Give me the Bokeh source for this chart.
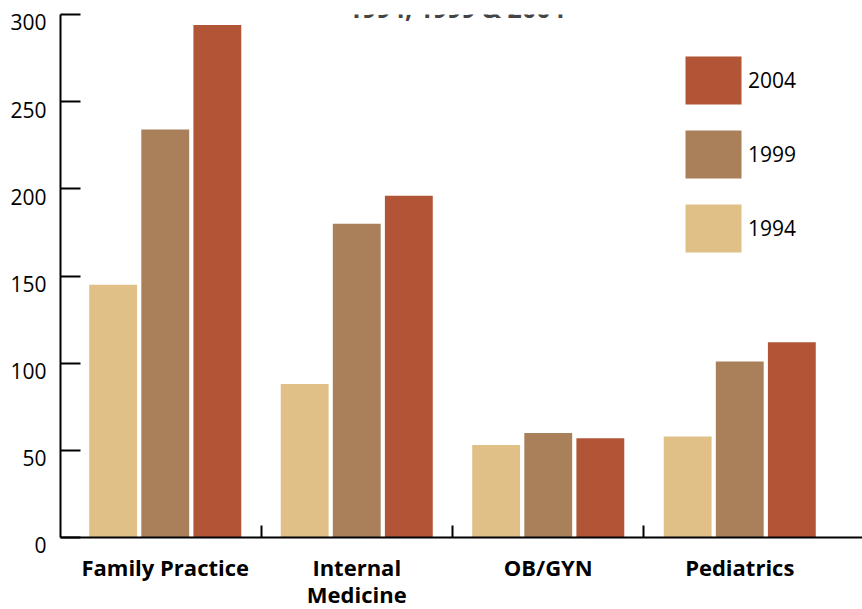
from bokeh.plotting import figure
from bokeh.models import ColumnDataSource, FixedTicker, Legend, LegendItem, Label, Range1d
from bokeh.transform import dodge
from bokeh.embed import file_html
from bokeh.resources import INLINE

categories = ["Family Practice", "Internal\nMedicine", "OB/GYN", "Pediatrics"]
years = ["1994", "1999", "2004"]
v1994 = [145, 88, 53, 58]
v1999 = [234, 180, 60, 101]
v2004 = [294, 196, 57, 112]
y_ticks = [0, 50, 100, 150, 200, 250, 300]
title_text = "1994, 1999 & 2004"

colors = {"1994": "#E0C087", "1999": "#A9805A", "2004": "#B25537"}
FONT = "Open Sans"

idx = list(range(len(categories)))
source = ColumnDataSource(dict(x=idx, y1994=v1994, y1999=v1999, y2004=v2004))

p = figure(frame_width=802, frame_height=523, output_backend="svg", toolbar_location=None,
           x_range=Range1d(-0.547, 3.641), y_range=Range1d(0, 300),
           min_border_left=60, min_border_right=0, min_border_top=14, min_border_bottom=60)
p.outline_line_color = None
p.xgrid.visible = False
p.ygrid.visible = False
p.background_fill_color = "white"
p.border_fill_color = "white"

offsets = {"1994": -0.272, "1999": 0.0, "2004": 0.272}
renderers = {}
for yr in years:
    renderers[yr] = p.vbar(x=dodge("x", offsets[yr], range=p.x_range), top="y" + yr,
                           width=0.25, source=source, fill_color=colors[yr], line_color=None)

# x axis
xa = p.xaxis[0]
xa.ticker = FixedTicker(ticks=idx, minor_ticks=[i + 0.5 for i in idx[:-1]])
xa.major_label_overrides = {i: c for i, c in zip(idx, categories)}
xa.major_tick_in = 0
xa.major_tick_out = 0
xa.minor_tick_in = 12
xa.minor_tick_out = 0
xa.minor_tick_line_color = "black"
xa.minor_tick_line_width = 2
xa.axis_line_width = 2
xa.axis_line_color = "black"
xa.major_label_text_font = FONT
xa.major_label_text_font_style = "bold"
xa.major_label_text_font_size = "22px"
xa.major_label_text_color = "black"
xa.major_label_text_line_height = 0.93
xa.major_label_standoff = 14

# y axis: labels sit a little below each tick, as in the reference
# (leading empty lines push the number down; the top one is kept inside the canvas)
top_tick = y_ticks[-1]
ya = p.yaxis[0]
ya.ticker = FixedTicker(ticks=y_ticks, minor_ticks=[])
ya.major_label_overrides = {t: ("\n" if t == top_tick else "\n\n") + str(t) for t in y_ticks}
ya.major_tick_in = 20
ya.major_tick_out = 0
ya.major_tick_line_width = 2
ya.major_tick_line_color = "black"
ya.axis_line_width = 2
ya.axis_line_color = "black"
ya.major_label_text_font = FONT
ya.major_label_text_font_size = "21px"
ya.major_label_text_color = "black"
ya.major_label_text_line_height = 0.28
ya.major_label_standoff = 14

legend = Legend(items=[LegendItem(label=yr, renderers=[renderers[yr]]) for yr in reversed(years)],
                location=(618, 279), orientation="vertical",
                glyph_width=70, glyph_height=60, spacing=14, padding=0, margin=0,
                label_standoff=0, label_text_font=FONT, label_text_font_size="21px",
                label_text_color="black",
                label_text_baseline="middle", label_height=60,
                border_line_alpha=0, background_fill_alpha=0)
p.add_layout(legend)

p.add_layout(Label(x=1.52, y=304, text=title_text, text_align="center", text_baseline="alphabetic",
                   text_font=FONT, text_font_style="bold", text_font_size="25px"))

open("out.html", "w").write(file_html(p, INLINE))
